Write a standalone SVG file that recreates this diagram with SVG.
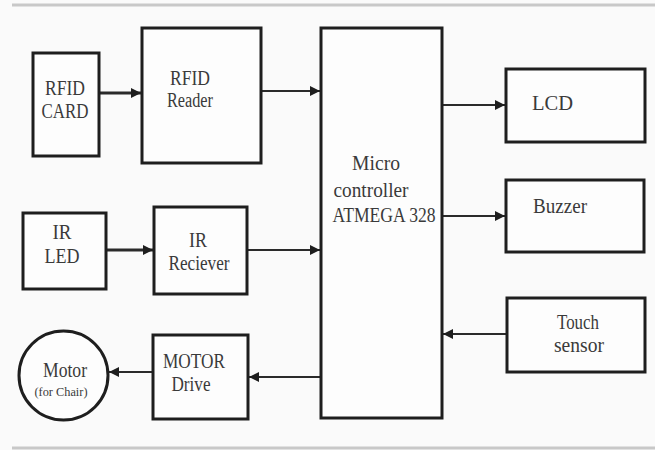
<svg xmlns="http://www.w3.org/2000/svg" width="655" height="450" viewBox="0 0 655 450">
<defs>
<style>
.box{fill:#fdfdfd;stroke:#1e1e1e;stroke-width:3}
.t{font-family:'Liberation Serif','DejaVu Serif',serif;font-size:20px;fill:#3a3a3a;text-anchor:middle}
.s{font-size:13px}
.ln{fill:none;stroke:#2a2a2a;stroke-width:2.2}
.thick{stroke-width:3}
.rule{stroke:#c8c8c8;stroke-width:3}
</style>
<marker id="ah" viewBox="0 0 10 10" refX="10" refY="5" markerWidth="10" markerHeight="10" markerUnits="userSpaceOnUse" orient="auto">
<path d="M0,0 L10,5 L0,10 Z" fill="#1e1e1e"/>
</marker>
</defs>
<rect width="655" height="450" fill="#fafafa"/>
<line class="rule" x1="12" y1="5" x2="655" y2="5"/>
<line class="rule" x1="12" y1="448" x2="655" y2="448"/>
<g id="connectors">
<line class="ln thick" x1="99" y1="93" x2="141" y2="93" marker-end="url(#ah)"/>
<line class="ln" x1="261" y1="91" x2="320" y2="91" marker-end="url(#ah)"/>
<line class="ln" x1="442" y1="105" x2="505" y2="105" marker-end="url(#ah)"/>
<line class="ln" x1="442" y1="216" x2="505" y2="216" marker-end="url(#ah)"/>
<line class="ln" x1="507" y1="334" x2="443" y2="334" marker-end="url(#ah)"/>
<line class="ln thick" x1="106" y1="250" x2="153" y2="250" marker-end="url(#ah)"/>
<line class="ln" x1="247" y1="250" x2="320" y2="250" marker-end="url(#ah)"/>
<line class="ln" x1="321" y1="377" x2="249" y2="377" marker-end="url(#ah)"/>
<line class="ln" x1="153" y1="372" x2="109" y2="372" marker-end="url(#ah)"/>
</g>
<g id="rfid-card">
<rect class="box" x="33" y="53" width="66" height="103"/>
<text class="t" x="65" y="95" textLength="40" lengthAdjust="spacingAndGlyphs">RFID</text>
<text class="t" x="65" y="118" textLength="47" lengthAdjust="spacingAndGlyphs">CARD</text>
</g>
<g id="rfid-reader">
<rect class="box" x="142" y="28" width="119" height="135"/>
<text class="t" x="190" y="85" textLength="40" lengthAdjust="spacingAndGlyphs">RFID</text>
<text class="t" x="190" y="107" textLength="46" lengthAdjust="spacingAndGlyphs">Reader</text>
</g>
<g id="microcontroller">
<rect class="box" x="321" y="28" width="121" height="390"/>
<text class="t" x="376" y="170" textLength="48" lengthAdjust="spacingAndGlyphs">Micro</text>
<text class="t" x="371" y="197" textLength="75" lengthAdjust="spacingAndGlyphs">controller</text>
<text class="t" x="384" y="222" textLength="103" lengthAdjust="spacingAndGlyphs">ATMEGA 328</text>
</g>
<g id="lcd">
<rect class="box" x="506" y="69" width="139" height="73"/>
<text class="t" x="552.5" y="110" textLength="41" lengthAdjust="spacingAndGlyphs">LCD</text>
</g>
<g id="buzzer">
<rect class="box" x="506" y="180" width="138" height="72"/>
<text class="t" x="560" y="213" textLength="54" lengthAdjust="spacingAndGlyphs">Buzzer</text>
</g>
<g id="touch-sensor">
<rect class="box" x="507" y="298" width="138" height="74"/>
<text class="t" x="578" y="329" textLength="42" lengthAdjust="spacingAndGlyphs">Touch</text>
<text class="t" x="579" y="352" textLength="50" lengthAdjust="spacingAndGlyphs">sensor</text>
</g>
<g id="ir-led">
<rect class="box" x="23" y="213" width="83" height="76"/>
<text class="t" x="62" y="239" textLength="19" lengthAdjust="spacingAndGlyphs">IR</text>
<text class="t" x="62" y="263" textLength="35" lengthAdjust="spacingAndGlyphs">LED</text>
</g>
<g id="ir-receiver">
<rect class="box" x="154" y="207" width="93" height="87"/>
<text class="t" x="198" y="247" textLength="18" lengthAdjust="spacingAndGlyphs">IR</text>
<text class="t" x="199" y="270" textLength="61" lengthAdjust="spacingAndGlyphs">Reciever</text>
</g>
<g id="motor-drive">
<rect class="box" x="153" y="335" width="95" height="84"/>
<text class="t" x="194" y="368" textLength="62" lengthAdjust="spacingAndGlyphs">MOTOR</text>
<text class="t" x="191" y="391" textLength="39" lengthAdjust="spacingAndGlyphs">Drive</text>
</g>
<g id="motor">
<circle cx="63.5" cy="375.5" r="44.5" fill="#fdfdfd" stroke="#1e1e1e" stroke-width="3"/>
<text class="t" x="65" y="377" textLength="44" lengthAdjust="spacingAndGlyphs">Motor</text>
<text class="t s" x="61" y="396" textLength="53" lengthAdjust="spacingAndGlyphs">(for Chair)</text>
</g>
</svg>
